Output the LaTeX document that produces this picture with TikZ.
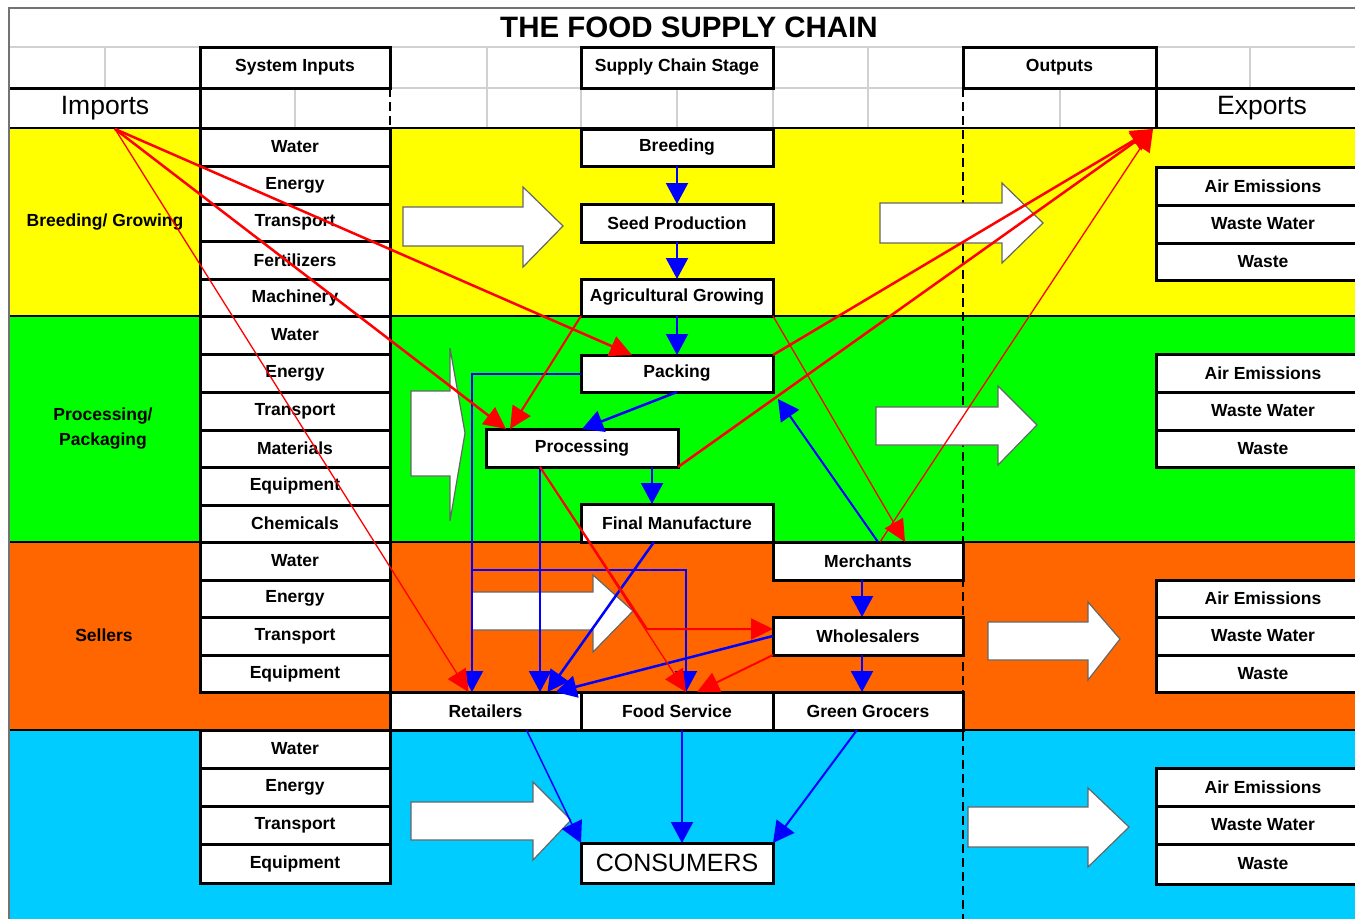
\documentclass[tikz,border=0pt]{standalone}
\usepackage{fontspec}
\setmainfont{Liberation Sans}
\usetikzlibrary{arrows.meta}
\definecolor{cyel}{HTML}{FFFF00}
\definecolor{cgrn}{HTML}{00FF00}
\definecolor{corg}{HTML}{FF6600}
\definecolor{ccyn}{HTML}{00CCFF}
\definecolor{cred}{HTML}{FF0000}
\definecolor{cblue}{HTML}{0000FF}
\tikzset{
 sbox/.style={draw=black,line width=3pt,fill=white,inner sep=0pt,outer sep=0pt,font=\bfseries\fontsize{17.5}{19}\selectfont},
 lbl/.style={font=\bfseries\fontsize{17.5}{25}\selectfont,align=center,inner sep=0pt},
 gridln/.style={draw=black!18,line width=1.5pt},
 fat/.style={fill=white,draw=black!60,line width=1.2pt,line join=miter},
 bl/.style={draw=cblue,line width=2pt,-{Triangle[length=21pt,width=22pt]}},
 blthin/.style={bl,line width=1.5pt},
 rd/.style={draw=cred,line width=2.5pt,-{Triangle[length=22pt,width=21pt]}},
 rdmid/.style={rd,line width=2pt},
 rdthin/.style={rd,line width=1.3pt},
}
\newcommand{\mybox}[6]{\node[sbox,minimum width={#4-#2},minimum height={#5-#3}] (#1) at ({(#2+#4)/2},{(#3+#5)/2}) {#6};}
\begin{document}
\begin{tikzpicture}[x=1pt,y=-1pt]
\useasboundingbox (0,0) rectangle (1355,919);
\clip (0,0) rectangle (1355,919);
\fill[white] (0,0) rectangle (1355,919);
% bands
\fill[cyel] (10,128) rectangle (1355,316);
\fill[cgrn] (10,316) rectangle (1355,542);
\fill[corg] (10,542) rectangle (1355,730);
\fill[ccyn] (10,730) rectangle (1355,919);
% header grid
\draw[gridln] (10,47) -- (1355,47);
\draw[gridln] (10,88) -- (1355,88);
\foreach \x in {105,487,868,1250} \draw[gridln] (\x,47) -- (\x,88);
\foreach \x in {295,487,581,677,773,868,1060} \draw[gridln] (\x,88) -- (\x,128);
% band boundaries
\draw[line width=2pt] (10,128) -- (1355,128);
\foreach \y in {316,542,730} \draw[line width=1.3pt] (10,\y) -- (1355,\y);
% outer border
\draw[black!55,line width=2pt] (9,919) -- (9,8) -- (1355,8);
% header
\node[font=\bfseries\fontsize{29.5}{32}\selectfont] (title) at (689,27) {THE FOOD SUPPLY CHAIN};
\draw[line width=3pt] (10,88) -- (200,88);
\draw[line width=3pt] (1156,88) -- (1355,88);
\draw[line width=3pt] (200,88) -- (200,128);
\draw[line width=3pt] (1156,88) -- (1156,128);
\draw[line width=2pt,dash pattern=on 9pt off 5pt] (390,88) -- (390,128);
\draw[line width=2pt,dash pattern=on 9pt off 5pt] (963,88) -- (963,919);
\mybox{sysin}{200}{47}{390}{88}{System Inputs}
\mybox{scs}{581}{47}{773}{88}{Supply Chain Stage}
\mybox{outp}{963}{47}{1156}{88}{Outputs}
\node[font=\fontsize{26.5}{30}\selectfont] (imports) at (105,108) {Imports};
\node[font=\fontsize{26.5}{30}\selectfont] (exports) at (1262,108) {Exports};
% left labels
\node[lbl] (lgrow) at (105,222) {Breeding/ Growing};
\node[lbl] (lproc) at (103,429) {Processing/\\Packaging};
\node[lbl] (lsell) at (104,635) {Sellers};
% fat arrows
\draw[fat] (403,207) -- (523,207) -- (523,187) -- (563,226) -- (523,267) -- (523,246) -- (403,246) -- cycle;
\draw[fat] (880,203) -- (1002,203) -- (1002,183) -- (1043,223) -- (1002,263) -- (1002,243) -- (880,243) -- cycle;
\draw[fat] (411,391) -- (450,391) -- (450,348) -- (465,433) -- (450,521) -- (450,476) -- (411,476) -- cycle;
\draw[fat] (876,407) -- (998,407) -- (998,386) -- (1037,425) -- (998,465) -- (998,445) -- (876,445) -- cycle;
\draw[fat] (472,592) -- (593,592) -- (593,575) -- (633,611) -- (593,652) -- (593,630) -- (472,630) -- cycle;
\draw[fat] (988,622) -- (1088,622) -- (1088,602) -- (1120,639) -- (1088,680) -- (1088,660) -- (988,660) -- cycle;
\draw[fat] (411,802) -- (533,802) -- (533,782) -- (571,820) -- (533,860) -- (533,840) -- (411,840) -- cycle;
\draw[fat] (968,807) -- (1088,807) -- (1088,788) -- (1129,827) -- (1088,867) -- (1088,847) -- (968,847) -- cycle;
% system inputs
\foreach \a/\b/\t/\n in {128/166/Water/ia1,166/204/Energy/ia2,204/241/Transport/ia3,241/279/Fertilizers/ia4,279/316/Machinery/ia5,
  316/354/Water/ib1,354/392/Energy/ib2,392/430/Transport/ib3,430/467/Materials/ib4,467/505/Equipment/ib5,505/542/Chemicals/ib6,
  542/580/Water/ic1,580/617/Energy/ic2,617/655/Transport/ic3,655/692/Equipment/ic4,
  730/768/Water/id1,768/806/Energy/id2,806/844/Transport/id3,844/883/Equipment/id4}
  {\mybox{\n}{200}{\a}{390}{\b}{\t}}
% outputs
\foreach \a/\b/\t/\n in {167/205/Air Emissions/oa1,205/243/Waste Water/oa2,243/280/Waste/oa3,
  354/392/Air Emissions/ob1,392/430/Waste Water/ob2,430/467/Waste/ob3,
  580/617/Air Emissions/oc1,617/655/Waste Water/oc2,655/692/Waste/oc3,
  768/806/Air Emissions/od1,806/844/Waste Water/od2,844/884/Waste/od3}
  {\mybox{\n}{1156}{\a}{1370}{\b}{\t}}
% stages
\mybox{breed}{581}{129}{773}{166}{Breeding}
\mybox{seed}{581}{204}{773}{242}{Seed Production}
\mybox{agri}{581}{279}{773}{316}{Agricultural Growing}
\mybox{pack}{581}{355}{773}{392}{Packing}
\mybox{proc}{486}{429}{678}{467}{Processing}
\mybox{final}{581}{504}{773}{542}{Final Manufacture}
\mybox{merch}{773}{542}{963}{580}{Merchants}
\mybox{whol}{773}{617}{963}{655}{Wholesalers}
\mybox{retail}{390}{692}{581}{730}{Retailers}
\mybox{food}{581}{692}{773}{730}{Food Service}
\mybox{green}{773}{692}{963}{730}{Green Grocers}
\node[sbox,font=\fontsize{25}{28}\selectfont,minimum width=192,minimum height=40] (cons) at (677,863) {CONSUMERS};
% helper coordinates
\coordinate (impt) at (115,129);
\coordinate (expt) at (1153,129);
\coordinate (kink) at (647,629);
\coordinate (br) at (472,570);
% blue connectors
\draw[bl] (breed.south) -- (seed.north);
\draw[bl] (seed.south) -- (agri.north);
\draw[bl] (agri.south) -- (pack.north);
\draw[bl,line width=2.5pt] (pack.south) -- (proc.north);
\draw[bl] ([xshift=70pt]proc.south) -- ([xshift=-25pt]final.north);
\draw[bl] ([xshift=10pt]merch.north) -- ([xshift=5pt,yshift=-7pt]pack.south east);
\draw[bl] ([xshift=-6pt]merch.south) -- ([xshift=-6pt]whol.north);
\draw[bl] ([xshift=-6pt]whol.south) -- ([xshift=-6pt]green.north);
\draw[bl] (pack.west) -| ([xshift=-13.5pt]retail.north);
\draw[bl] (br) -| ([xshift=9pt]food.north);
\draw[bl] ([xshift=-42pt]proc.south) -- ([xshift=54.5pt]retail.north);
\draw[bl,line width=2.5pt] ([xshift=-23pt]final.south) -- ([xshift=62pt]retail.north);
\draw[bl,line width=2.5pt] (whol.west) -- ([xshift=70pt]retail.north);
\draw[blthin] ([xshift=41pt]retail.south) -- (cons.north west);
\draw[bl] ([xshift=5pt]food.south) -- ([xshift=5pt]cons.north);
\draw[bl] ([xshift=-11pt]green.south) -- (cons.north east);
% red connectors
\draw[rd] (impt) -- ([xshift=-45pt]pack.north);
\draw[rd] (impt) -- ([xshift=-76pt]proc.north);
\draw[rdthin] (impt) -- ([xshift=-17pt]retail.north);
\draw[rd] (pack.north east) -- (expt);
\draw[rd] (proc.south east) -- (expt);
\draw[rdthin] ([xshift=12pt]merch.north) -- (expt);
\draw[rdmid] (agri.south west) -- ([xshift=-72pt]proc.north);
\draw[rdthin] (agri.south east) -- ([xshift=37pt]merch.north);
\draw[rdthin] ([xshift=-42pt]proc.south) -- ([xshift=9pt]food.north);
\draw[rdmid] ([xshift=-42pt]proc.south) -- (kink) -- ([yshift=7pt]whol.west);
\draw[rdmid] (whol.south west) -- ([xshift=20pt]food.north);
\end{tikzpicture}
\end{document}
